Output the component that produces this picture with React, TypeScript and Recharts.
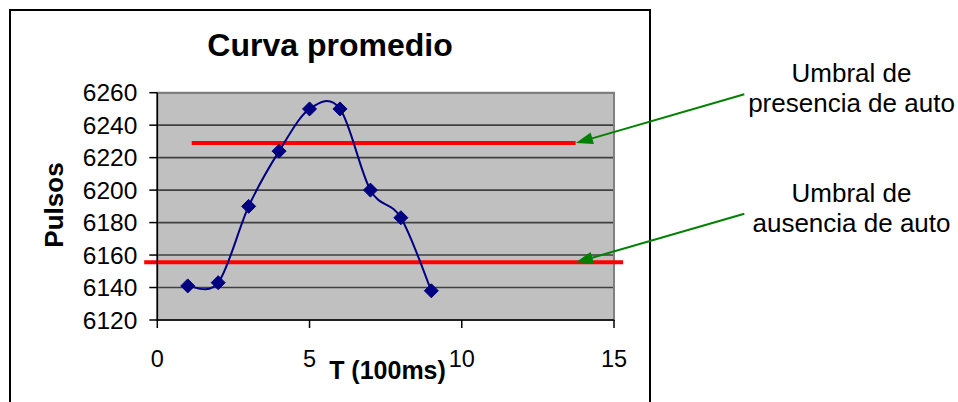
import React from 'react';
import { LineChart, Line, XAxis, YAxis, CartesianGrid, ReferenceLine, ReferenceArea } from 'recharts';

// valores
const tiempos = [1, 2, 3, 4, 5, 6, 7, 8, 9];
const pulsos = [6141, 6143, 6190, 6224, 6250, 6250, 6200, 6183, 6138];
const xTicks = [0, 5, 10, 15];
const yTicks = [6120, 6140, 6160, 6180, 6200, 6220, 6240, 6260];

// umbrales (líneas rojas) y sus tramos en T
const umbralPresencia = 6229;
const umbralAusencia = 6155.5;
const tramoPresencia = [1.13, 13.74];
const tramoAusencia = [-0.43, 15.3];

// flechas verdes: desde el texto hasta el extremo de cada umbral
const flechaOrigenT = 19.28;
const flechaPuntaT = 13.75;
const flechaPresenciaOrigen = 6259;
const flechaAusenciaOrigen = 6185.4;

const data = tiempos.map((t, i) => ({ t, pulsos: pulsos[i] }));

const FONT = '"Liberation Sans", Arial, sans-serif';

// suavizado tipo Excel (Catmull-Rom a Bezier)
const excelSmooth = (context: any) => {
  let pts: number[][] = [];
  return {
    areaStart() {},
    areaEnd() {},
    lineStart() {
      pts = [];
    },
    point(x: number, y: number) {
      pts.push([+x, +y]);
    },
    lineEnd() {
      if (!pts.length) return;
      context.moveTo(pts[0][0], pts[0][1]);
      for (let i = 0; i < pts.length - 1; i++) {
        const p0 = pts[i - 1] || pts[i];
        const p1 = pts[i];
        const p2 = pts[i + 1];
        const p3 = pts[i + 2] || p2;
        context.bezierCurveTo(
          p1[0] + (p2[0] - p0[0]) / 6,
          p1[1] + (p2[1] - p0[1]) / 6,
          p2[0] - (p3[0] - p1[0]) / 6,
          p2[1] - (p3[1] - p1[1]) / 6,
          p2[0],
          p2[1]
        );
      }
    },
  };
};

const Diamond = (props: any) => {
  const { cx, cy, index } = props;
  if (cx == null || cy == null) return <g key={index} />;
  const r = 7;
  return (
    <path
      key={index}
      d={`M${cx},${cy - r}L${cx + r},${cy}L${cx},${cy + r}L${cx - r},${cy}Z`}
      fill="#000080"
      stroke="#000080"
    />
  );
};

const Flecha = (props: any) => {
  const { x1, y1, x2, y2 } = props;
  const dx = x2 - x1;
  const dy = y2 - y1;
  const len = Math.hypot(dx, dy) || 1;
  const ux = dx / len;
  const uy = dy / len;
  const head = 17;
  const half = 6;
  const bx = x2 - ux * head;
  const by = y2 - uy * head;
  return (
    <g>
      <line x1={x1} y1={y1} x2={bx + ux * 2} y2={by + uy * 2} stroke="#008000" strokeWidth={2} />
      <polygon
        points={`${x2},${y2} ${bx - uy * half},${by + ux * half} ${bx + uy * half},${by - ux * half}`}
        fill="#008000"
      />
    </g>
  );
};

const App: React.FC = () => {
  return (
    <div style={{ position: 'absolute', left: 0, top: 0, width: 958, height: 402, overflow: 'hidden', background: '#fff' }}>
      <div
        style={{
          position: 'absolute',
          left: 9,
          top: 9,
          width: 642,
          height: 430,
          border: '2px solid #000',
          boxSizing: 'border-box',
        }}
      />
      <div style={{ position: 'absolute', left: 0, top: 0 }}>
        <LineChart width={958} height={402} data={data} margin={{ top: 92.7, right: 344, bottom: 0, left: 0 }}>
          <CartesianGrid vertical={false} fill="#C0C0C0" stroke="#404040" strokeWidth={1.6} strokeOpacity={1} />
          <ReferenceArea x1={0} x2={15} y1={6120} y2={6260} fill="none" stroke="#808080" strokeWidth={2} ifOverflow="visible" />
          <XAxis
            dataKey="t"
            type="number"
            domain={[0, 15]}
            ticks={xTicks}
            interval={0}
            height={82}
            tickSize={8}
            tickMargin={22}
            stroke="#000"
            strokeWidth={1.5}
            tick={{ fill: '#000', fontSize: 23.5, fontFamily: FONT }}
          />
          <YAxis
            type="number"
            domain={[6120, 6260]}
            ticks={yTicks}
            interval={0}
            width={157.3}
            tickSize={8}
            tickMargin={12}
            stroke="#000"
            strokeWidth={1.5}
            tick={{ fill: '#000', fontSize: 24.5, fontFamily: FONT }}
          />
          <ReferenceLine
            segment={[
              { x: tramoPresencia[0], y: umbralPresencia },
              { x: tramoPresencia[1], y: umbralPresencia },
            ]}
            stroke="#FF0000"
            strokeWidth={4}
            ifOverflow="visible"
          />
          <ReferenceLine
            segment={[
              { x: tramoAusencia[0], y: umbralAusencia },
              { x: tramoAusencia[1], y: umbralAusencia },
            ]}
            stroke="#FF0000"
            strokeWidth={4}
            ifOverflow="visible"
          />
          <Line
            dataKey="pulsos"
            type={excelSmooth as any}
            stroke="#000080"
            strokeWidth={2}
            dot={Diamond}
            activeDot={false}
            isAnimationActive={false}
          />
          <ReferenceLine
            segment={[
              { x: flechaOrigenT, y: flechaPresenciaOrigen },
              { x: flechaPuntaT, y: umbralPresencia },
            ]}
            ifOverflow="visible"
            shape={Flecha}
          />
          <ReferenceLine
            segment={[
              { x: flechaOrigenT, y: flechaAusenciaOrigen },
              { x: flechaPuntaT, y: umbralAusencia },
            ]}
            ifOverflow="visible"
            shape={Flecha}
          />
        </LineChart>
      </div>
      <svg
        width={958}
        height={402}
        style={{ position: 'absolute', left: 0, top: 0, pointerEvents: 'none' }}
        fontFamily={FONT}
      >
        <text x={330} y={56} textAnchor="middle" fontSize={32} fontWeight="bold">
          Curva promedio
        </text>
        <text transform="translate(62.5,205) rotate(-90)" textAnchor="middle" fontSize={26} fontWeight="bold">
          Pulsos
        </text>
        <text x={387.5} y={379} textAnchor="middle" fontSize={25} fontWeight="bold">
          T (100ms)
        </text>
        <g fontSize={26} textAnchor="middle">
          <text x={851.5} y={81.7}>Umbral de</text>
          <text x={851.5} y={111.7}>presencia de auto</text>
          <text x={851.5} y={201.7}>Umbral de</text>
          <text x={851.5} y={231.7}>ausencia de auto</text>
        </g>
      </svg>
    </div>
  );
};

export default App;
